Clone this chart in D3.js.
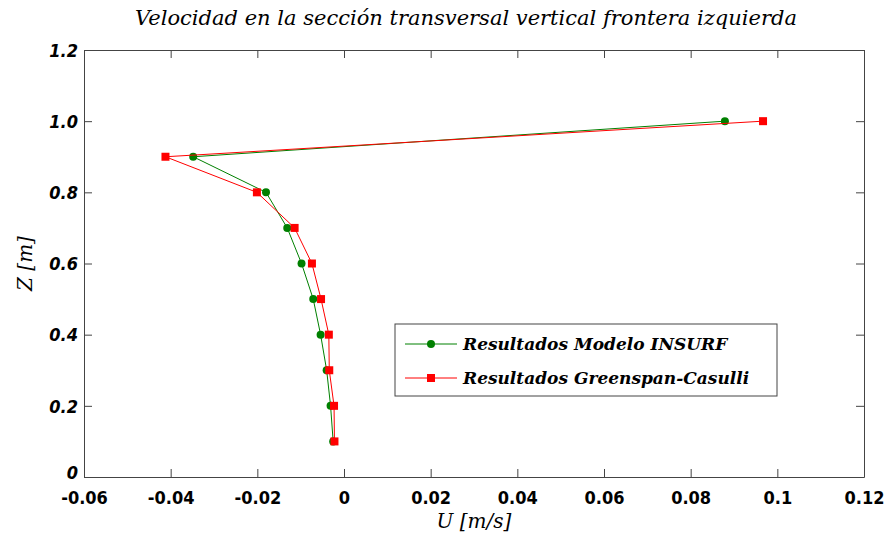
<!DOCTYPE html>
<html>
<head>
<meta charset="utf-8">
<script src="https://cdn.jsdelivr.net/npm/d3@7"></script>
<style>
body { margin: 0; background: #fff; }
svg { display: block; }
</style>
</head>
<body>
<script>
const depths = [1.0, 0.9, 0.8, 0.7, 0.6, 0.5, 0.4, 0.3, 0.2, 0.1];
const insurfU = [0.0879, -0.0348, -0.0180, -0.0131, -0.0098, -0.0071, -0.0054, -0.0040, -0.0031, -0.0025];
const greenspanU = [0.0967, -0.0412, -0.0201, -0.0114, -0.0074, -0.0053, -0.0035, -0.0034, -0.0023, -0.0022];
const xTicks = [-0.06, -0.04, -0.02, 0, 0.02, 0.04, 0.06, 0.08, 0.1, 0.12];
const yTicks = [0, 0.2, 0.4, 0.6, 0.8, 1.0, 1.2];
const xTickLabels = ["-0.06", "-0.04", "-0.02", "0", "0.02", "0.04", "0.06", "0.08", "0.1", "0.12"];
const yTickLabels = ["0", "0.2", "0.4", "0.6", "0.8", "1.0", "1.2"];
const seriesNames = ["Resultados Modelo INSURF", "Resultados Greenspan-Casulli"];

const width = 886, height = 539;
const plot = { l: 84, r: 864, t: 50, b: 477 };

const x = d3.scaleLinear().domain([-0.06, 0.12]).range([plot.l, plot.r]);
const y = d3.scaleLinear().domain([0, 1.2]).range([plot.b, plot.t]);

const svg = d3.select("body").append("svg")
    .attr("width", width)
    .attr("height", height);

const tickFont = "'DejaVu Sans Condensed', 'DejaVu Sans', sans-serif";
const scriptFont = "'DejaVu Serif', 'Liberation Serif', serif";

// title
svg.append("text")
    .attr("x", 466)
    .attr("y", 25)
    .attr("text-anchor", "middle")
    .style("font-family", scriptFont)
    .style("font-style", "italic")
    .style("font-size", "21px")
    .text("Velocidad en la sección transversal vertical frontera izquierda");

// axes with inward ticks
const xAxis = d3.axisBottom(x).tickValues(xTicks).tickSizeInner(-8).tickSizeOuter(0)
    .tickFormat((d, i) => xTickLabels[i]);
const yAxis = d3.axisLeft(y).tickValues(yTicks).tickSizeInner(-8).tickSizeOuter(0)
    .tickFormat((d, i) => yTickLabels[i]);

const gx = svg.append("g")
    .attr("transform", `translate(0, ${plot.b})`)
    .call(xAxis);
gx.selectAll("text")
    .attr("y", 14)
    .attr("dy", "0.71em")
    .style("font-family", tickFont)
    .style("font-weight", "bold")
    .style("font-size", "18px")
    .style("fill", "#000");

const gy = svg.append("g")
    .attr("transform", `translate(${plot.l}, 0)`)
    .call(yAxis);
gy.selectAll("text")
    .attr("x", -6)
    .attr("dy", "0.35em")
    .style("font-family", tickFont)
    .style("font-weight", "bold")
    .style("font-style", "italic")
    .style("font-size", "18px")
    .style("fill", "#000");
// the "0" label sits a little higher, like the reference
gy.selectAll("text").filter(d => d === 0).attr("dy", "0.1em");

// top and right ticks
svg.append("g")
    .attr("transform", `translate(0, ${plot.t})`)
    .call(d3.axisTop(x).tickValues(xTicks).tickSizeInner(-8).tickSizeOuter(0).tickFormat(""));
svg.append("g")
    .attr("transform", `translate(${plot.r}, 0)`)
    .call(d3.axisRight(y).tickValues(yTicks).tickSizeInner(-8).tickSizeOuter(0).tickFormat(""));

svg.selectAll(".domain, .tick line").attr("stroke", "#444");

// axis labels
svg.append("text")
    .attr("x", (plot.l + plot.r) / 2)
    .attr("y", 528)
    .attr("text-anchor", "middle")
    .style("font-family", scriptFont)
    .style("font-style", "italic")
    .style("font-size", "20px")
    .text("U [m/s]");

svg.append("text")
    .attr("transform", `translate(32, ${(plot.t + plot.b) / 2}) rotate(-90)`)
    .attr("text-anchor", "middle")
    .style("font-family", scriptFont)
    .style("font-style", "italic")
    .style("font-size", "20px")
    .text("Z [m]");

// series
const series = [
    { name: seriesNames[0], values: insurfU, color: "#008000", marker: "circle" },
    { name: seriesNames[1], values: greenspanU, color: "#ff0000", marker: "square" }
];

const line = d3.line()
    .x(d => x(d.u))
    .y(d => y(d.z));

series.forEach(s => {
    const pts = s.values.map((u, i) => ({ u, z: depths[i] }));
    const g = svg.append("g");
    g.append("path")
        .datum(pts)
        .attr("d", line)
        .attr("fill", "none")
        .attr("stroke", s.color)
        .attr("stroke-width", 1);
    if (s.marker === "circle") {
        g.selectAll("circle").data(pts).enter().append("circle")
            .attr("cx", d => x(d.u))
            .attr("cy", d => y(d.z))
            .attr("r", 4)
            .attr("fill", s.color);
    } else {
        g.selectAll("rect").data(pts).enter().append("rect")
            .attr("x", d => x(d.u) - 4)
            .attr("y", d => y(d.z) - 4)
            .attr("width", 8)
            .attr("height", 8)
            .attr("fill", s.color);
    }
});

// legend
const legend = svg.append("g").attr("transform", "translate(395, 324)");
legend.append("rect")
    .attr("width", 382)
    .attr("height", 72)
    .attr("fill", "#fff")
    .attr("stroke", "#444");

series.forEach((s, i) => {
    const row = legend.append("g").attr("transform", `translate(0, ${20 + i * 34})`);
    row.append("line")
        .attr("x1", 10).attr("x2", 62)
        .attr("stroke", s.color).attr("stroke-width", 1);
    if (s.marker === "circle") {
        row.append("circle").attr("cx", 36).attr("r", 4).attr("fill", s.color);
    } else {
        row.append("rect").attr("x", 32).attr("y", -4).attr("width", 8).attr("height", 8).attr("fill", s.color);
    }
    row.append("text")
        .attr("x", 68)
        .attr("dy", "0.35em")
        .style("font-family", scriptFont)
        .style("font-style", "italic")
        .style("font-weight", "bold")
        .style("font-size", "17px")
        .text(s.name);
});
</script>
</body>
</html>
